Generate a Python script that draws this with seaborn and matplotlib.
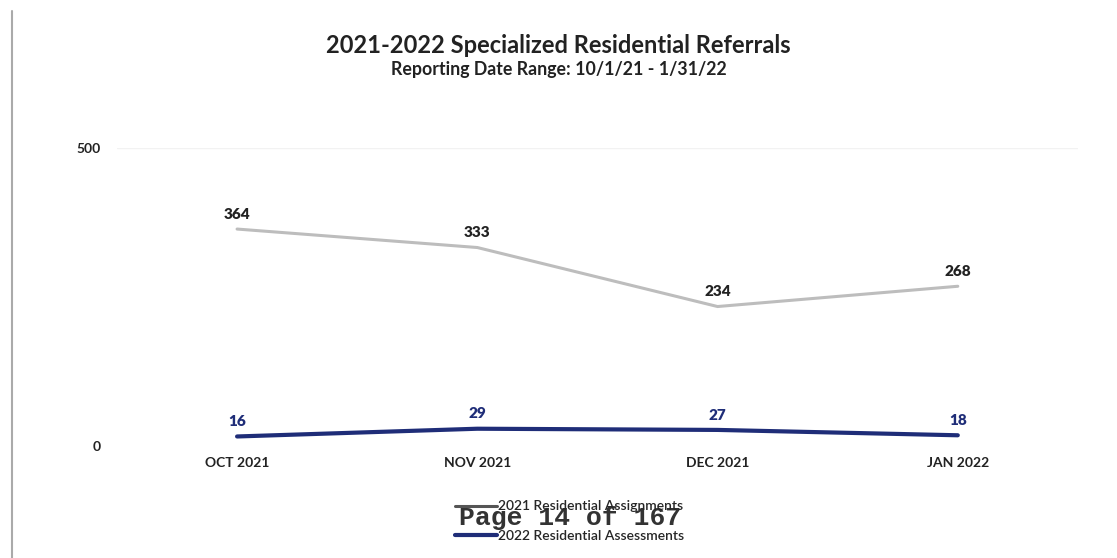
import matplotlib
matplotlib.use("Agg")
import matplotlib.pyplot as plt
import seaborn as sns
import pandas as pd
from matplotlib.lines import Line2D

months = ["OCT 2021", "NOV 2021", "DEC 2021", "JAN 2022"]
assignments_2021 = [364, 333, 234, 268]
assessments_2022 = [16, 29, 27, 18]
series_names = ["2021 Residential Assignments", "2022 Residential Assessments"]
yticks = [0, 500]

sns.set_theme(style="white")
plt.rcParams['font.family'] = ['Lato', 'DejaVu Sans']

df = pd.DataFrame({
    "month": months * 2,
    "value": assignments_2021 + assessments_2022,
    "series": [series_names[0]] * 4 + [series_names[1]] * 4,
})

gray = "#BDBDBD"
navy = "#1F2D78"

fig = plt.figure(figsize=(11.17, 5.58), dpi=100)
ax = fig.add_axes([0.1047, 0.2007, 0.8603, 0.5341])

sns.lineplot(data=df, x="month", y="value", hue="series",
             palette={series_names[0]: gray, series_names[1]: navy},
             ax=ax, legend=False, sort=False)
for line, lw in zip(ax.lines, [2.2, 3.0]):
    line.set_linewidth(lw)

ax.set_xlim(-0.5, 3.5)
ax.set_ylim(0, 500)
ax.set_yticks(yticks)
ax.set_yticklabels([str(t) for t in yticks], fontsize=10, fontweight="bold", color="#222222")
ax.tick_params(axis="y", pad=12, length=0)
ax.tick_params(axis="x", pad=8, length=0)
ax.set_xticks(range(len(months)))
ax.set_xticklabels(months, fontsize=10, fontweight="bold", color="#222222")
ax.set_xlabel("")
ax.set_ylabel("")
ax.axhline(500, color="#F2F2F2", lw=1, zorder=0)
for s in ax.spines.values():
    s.set_visible(False)

for i, v in enumerate(assignments_2021):
    ax.annotate(str(v), (i, v), xytext=(0, 6), textcoords="offset points",
                ha="center", va="bottom", fontsize=11, fontweight="heavy", color="#222222")
for i, v in enumerate(assessments_2022):
    ax.annotate(str(v), (i, v), xytext=(0, 6), textcoords="offset points",
                ha="center", va="bottom", fontsize=11, fontweight="heavy", color=navy)

fig.text(0.5, 0.918, "2021-2022 Specialized Residential Referrals", ha="center", va="center",
         fontsize=17, fontweight="bold", color="#222222")
fig.text(0.5, 0.876, "Reporting Date Range: 10/1/21 - 1/31/22", ha="center", va="center",
         fontsize=12.8, fontweight="bold", color="#222222")

handles = [Line2D([0], [0], color="#555555", lw=2.2), Line2D([0], [0], color=navy, lw=3)]
leg = fig.legend(handles, series_names, loc="center", bbox_to_anchor=(0.51, 0.066), ncol=1,
                 frameon=False, fontsize=10, handlelength=3.0, handletextpad=0.1,
                 labelspacing=1.25, prop={"size": 10, "weight": "semibold"})

fig.text(0.51, 0.072, "Page 14 of 167", ha="center", va="center",
         fontsize=19, fontweight="bold", family=["Liberation Mono", "DejaVu Sans Mono"],
         color="#333333")

fig.add_artist(Line2D([0.0105, 0.0105], [0.0, 0.98], color="#AAAAAA", lw=1.5,
                      transform=fig.transFigure))

fig.savefig("out.png", dpi=100, facecolor="white")
